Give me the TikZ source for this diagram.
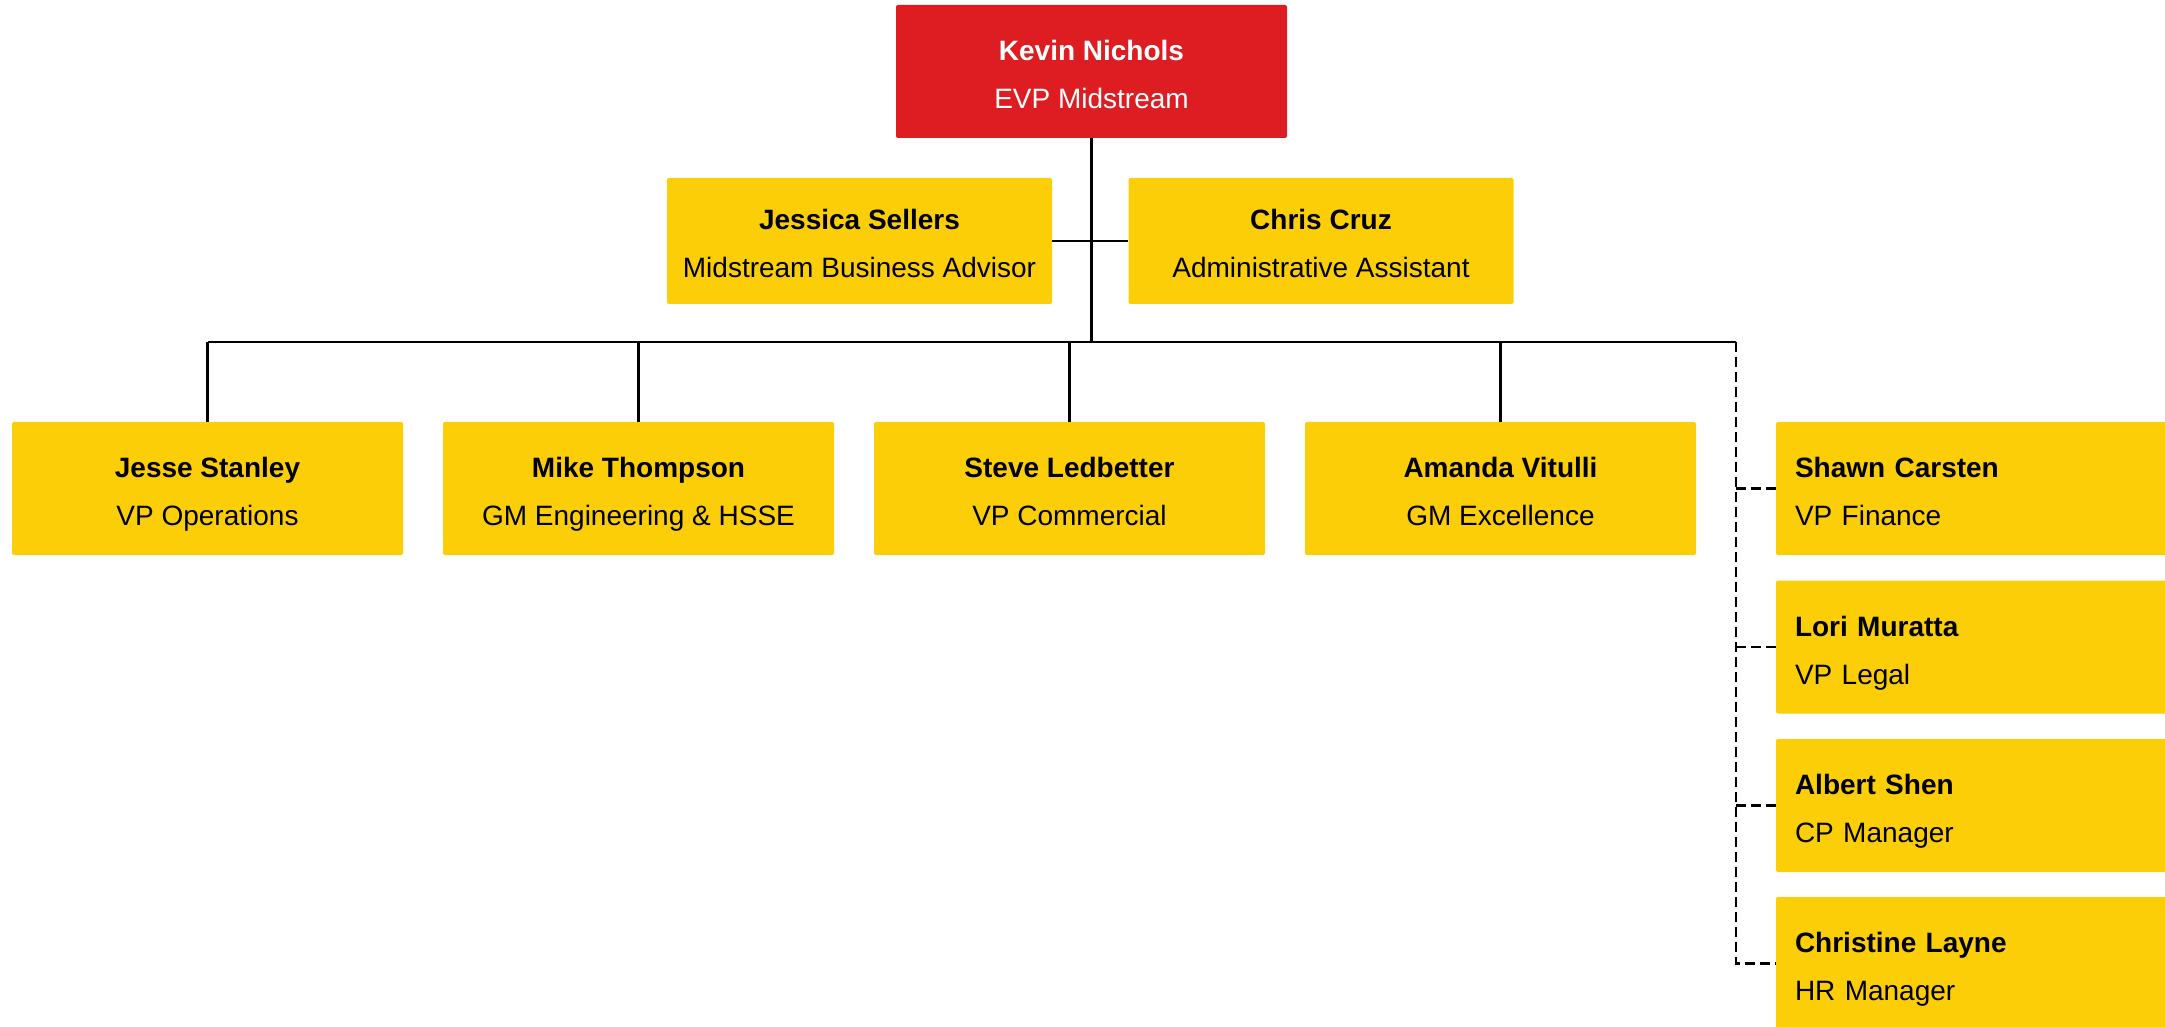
\documentclass[tikz,border=0pt]{standalone}
\usepackage{fontspec}
\setmainfont{Liberation Sans}
\definecolor{shellred}{HTML}{DD1D21}
\definecolor{shellyellow}{HTML}{FBCE07}
\newcommand{\cardtext}[2]{\rule{0pt}{16pt}\textbf{#1}\\#2\rule[-3pt]{0pt}{3pt}}
\begin{document}
\begin{tikzpicture}[x=0.5pt,y=-0.5pt,
  card/.style={fill=shellyellow, rounded corners=1pt, inner sep=0pt,
    minimum width=195.5pt, minimum height=66.5pt, align=center,
    font=\fontsize{14}{24}\selectfont},
  topcard/.style={card, fill=shellred, text=white},
  staffcard/.style={card, minimum width=192.5pt, minimum height=63pt},
  sidecard/.style={card, text width=176.5pt, align=left},
  link/.style={line width=1.4pt, black},
  dotlink/.style={link, dash pattern=on 5pt off 2.5pt}]
\useasboundingbox (0,0) rectangle (2165,1027);

\node[topcard] (kevin) at (1091.5,71.5) {\cardtext{Kevin Nichols}{EVP Midstream}};
\node[staffcard] (jessica) at (859.5,241) {\cardtext{Jessica Sellers}{Midstream Business Advisor}};
\node[staffcard] (chris) at (1321,241) {\cardtext{Chris Cruz}{Administrative Assistant}};

\node[card] (jesse) at (207.5,488.5) {\cardtext{Jesse Stanley}{VP Operations}};
\node[card] (mike) at (638.5,488.5) {\cardtext{Mike Thompson}{GM Engineering \& HSSE}};
\node[card] (steve) at (1069.5,488.5) {\cardtext{Steve Ledbetter}{VP Commercial}};
\node[card] (amanda) at (1500.5,488.5) {\cardtext{Amanda Vitulli}{GM Excellence}};

\node[sidecard] (shawn) at (1971.5,488.5) {\cardtext{Shawn Carsten}{VP Finance}};
\node[sidecard] (lori) at (1971.5,647) {\cardtext{Lori Muratta}{VP Legal}};
\node[sidecard] (albert) at (1971.5,805.5) {\cardtext{Albert Shen}{CP Manager}};
\node[sidecard] (christine) at (1971.5,963.5) {\cardtext{Christine Layne}{HR Manager}};

\coordinate (busL) at (207.5,342);
\coordinate (busR) at (1736,342);

\draw[link] (kevin.south) -- (kevin.south |- busL);
\draw[link] (jessica.east) -- (chris.west);
\draw[link] (busL) -- (busR);
\foreach \n in {jesse,mike,steve,amanda}
  \draw[link] (\n.north) -- (\n.north |- busL);
\draw[dotlink] (busR) |- (christine.west);
\foreach \n in {shawn,lori,albert}
  \draw[dotlink] (busR |- \n.west) -- (\n.west);
\end{tikzpicture}
\end{document}
